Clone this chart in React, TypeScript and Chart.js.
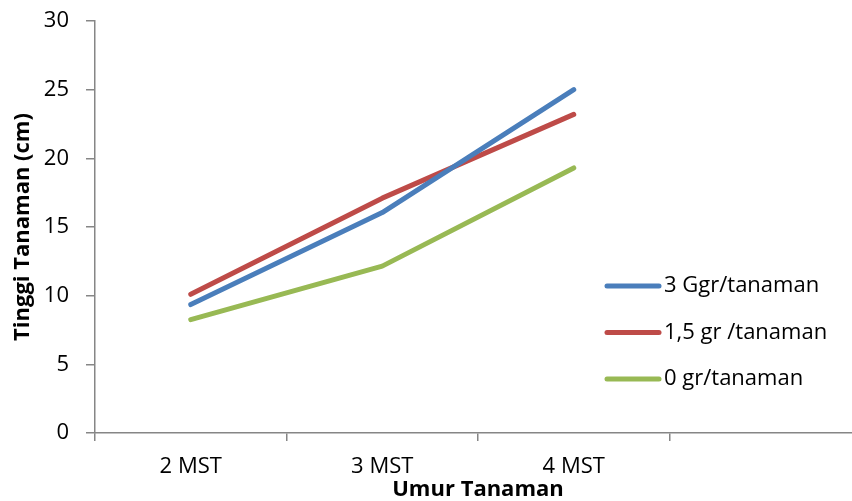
import React, { useEffect, useRef } from "react";
import { Chart, registerables } from "chart.js";

Chart.register(...registerables);

const categories = ["2 MST", "3 MST", "4 MST", ""];
const seriesNames = ["3 Ggr/tanaman", "1,5 gr /tanaman", "0 gr/tanaman"];
const series3g = [9.35, 16.05, 25.0];
const series15g = [10.1, 17.1, 23.2];
const series0g = [8.25, 12.15, 19.3];
const seriesColors = ["#4A7EBB", "#BE4B48", "#98B954"];
const yTicks = [0, 5, 10, 15, 20, 25, 30];

const FONT = "'Open Sans', sans-serif";

// The reference's plot area extends slightly past the right edge of the picture,
// and starts 21px below the top.
const areaPlugin = {
  id: "extendArea",
  afterLayout(chart: any) {
    const x = chart.scales.x;
    const y = chart.scales.y;
    const extra = 9;
    chart.chartArea.right += extra;
    chart.chartArea.width += extra;
    x.right += extra;
    x.width += extra;
    x.configure();
    const top = 21;
    chart.chartArea.top = top;
    chart.chartArea.height = chart.chartArea.bottom - top;
    y.top = top;
    y.height = y.bottom - top;
    y.configure();
  },
};

const legendPlugin = {
  id: "customLegend",
  afterDraw(chart: any) {
    const ctx = chart.ctx;
    ctx.save();
    const startY = 286;
    const gap = 46.5;
    chart.data.datasets.forEach((ds: any, i: number) => {
      const y = startY + i * gap;
      ctx.strokeStyle = ds.borderColor;
      ctx.lineWidth = 5;
      ctx.lineCap = "round";
      ctx.beginPath();
      ctx.moveTo(607, y);
      ctx.lineTo(659, y);
      ctx.stroke();
      ctx.fillStyle = "#000";
      ctx.font = `22px ${FONT}`;
      ctx.textBaseline = "middle";
      ctx.textAlign = "left";
      ctx.fillText(ds.label, 664, y);
    });
    ctx.restore();
  },
};

export default function App() {
  const ref = useRef<HTMLCanvasElement | null>(null);
  useEffect(() => {
    if (!ref.current) return;
    const values = [series3g, series15g, series0g];
    const chart = new Chart(ref.current, {
      type: "line",
      data: {
        labels: categories,
        datasets: values.map((v, i) => ({
          label: seriesNames[i],
          data: v,
          borderColor: seriesColors[i],
          backgroundColor: seriesColors[i],
          borderWidth: 5,
          pointRadius: 0,
          borderCapStyle: "round" as const,
          borderJoinStyle: "round" as const,
          tension: 0,
        })),
      },
      options: {
        responsive: false,
        animation: false,
        layout: { padding: { top: 0, right: 0, bottom: 0, left: 0 } },
        plugins: { legend: { display: false }, tooltip: { enabled: false } },
        scales: {
          x: {
            offset: true,
            grid: {
              offset: true,
              drawOnChartArea: false,
              drawTicks: true,
              tickLength: 8,
              color: "#868686",
              lineWidth: 1.5,
            },
            border: { color: "#868686", width: 1.5 },
            ticks: {
              color: "#000",
              font: { family: FONT, size: 22 },
              padding: 13,
              maxRotation: 0,
            },
            title: {
              display: true,
              text: "Umur Tanaman",
              color: "#000",
              font: { family: FONT, size: 22, weight: "bold", lineHeight: 1.0 },
              padding: { top: 0, bottom: 0 },
            },
            afterFit(scale: any) {
              scale.height = 68;
            },
          },
          y: {
            min: 0,
            max: 30,
            afterBuildTicks(scale: any) {
              scale.ticks = yTicks.map((v) => ({ value: v }));
            },
            grid: {
              drawOnChartArea: false,
              drawTicks: true,
              tickLength: 9,
              color: "#868686",
              lineWidth: 1.5,
            },
            border: { color: "#868686", width: 1.5 },
            ticks: {
              color: "#000",
              font: { family: FONT, size: 22 },
              padding: 17,
            },
            title: {
              display: true,
              text: "Tinggi Tanaman (cm)",
              color: "#000",
              font: { family: FONT, size: 22, weight: "bold" },
              padding: { top: 10, bottom: 0 },
            },
            afterFit(scale: any) {
              scale.width = 95;
            },
          },
        },
      },
      plugins: [areaPlugin, legendPlugin],
    });
    return () => chart.destroy();
  }, []);
  return (
    <div style={{ position: "fixed", left: 0, top: 0, width: 852, height: 501, background: "#fff" }}>
      <canvas ref={ref} width={852} height={501} style={{ width: 852, height: 501 }} />
    </div>
  );
}
